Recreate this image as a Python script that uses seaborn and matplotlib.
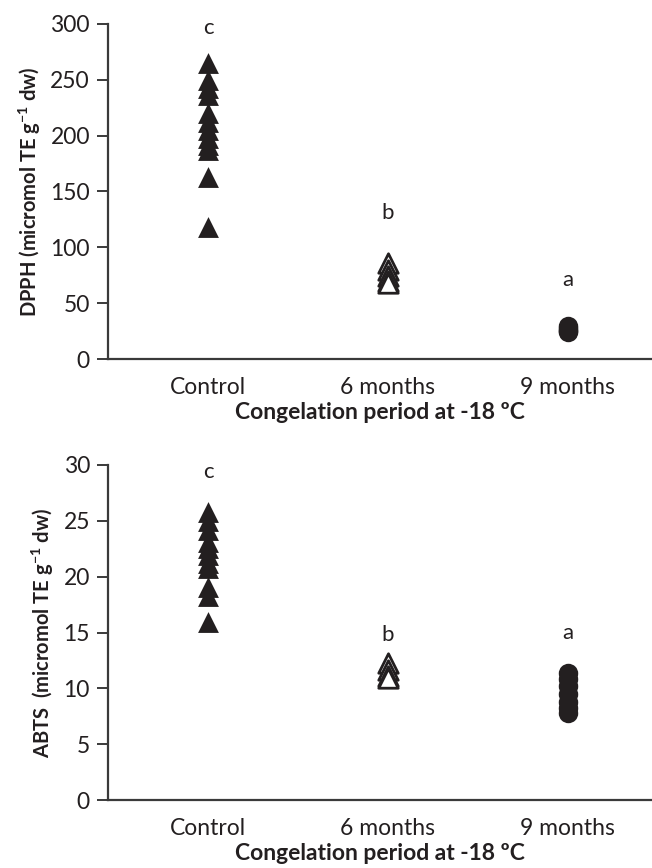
import pandas as pd
import matplotlib.pyplot as plt
import seaborn as sns

sns.set_style("white")
plt.rcParams['font.family'] = ['Lato', 'DejaVu Sans']
plt.rcParams['mathtext.fontset'] = 'custom'
plt.rcParams['mathtext.rm'] = 'Lato'
plt.rcParams['mathtext.bf'] = 'Lato:bold'
plt.rcParams['mathtext.default'] = 'bf'

# grupos y datos
groups = ['Control', '6 months', '9 months']
letters = ['c', 'b', 'a']

dpph_control = [265, 250, 243, 236, 220, 212, 205, 198, 192, 187, 163, 118]
dpph_6m = [86, 80, 74, 70, 68]
dpph_9m = [30, 28, 26, 25, 24]
dpph_letter_y = [296, 131, 71]

abts_control = [25.8, 25.0, 24.2, 23.1, 22.6, 21.9, 21.2, 20.8, 19.1, 18.3, 15.9]
abts_6m = [12.3, 11.6, 11.1, 10.9]
abts_9m = [11.4, 10.8, 10.2, 9.5, 8.8, 8.2, 7.8]
abts_letter_y = [29.4, 14.8, 15.0]

ink = '#231f20'


def make_df(ctrl, m6, m9):
    return pd.DataFrame({
        'group': ['Control'] * len(ctrl) + ['6 months'] * len(m6) + ['9 months'] * len(m9),
        'value': ctrl + m6 + m9,
    })


def panel(ax, df, ylabel, yticks, letter_y, xlabelpad):
    # control: triangulos negros
    sns.stripplot(data=df[df.group == 'Control'], x='group', y='value', order=groups,
                  jitter=False, marker='^', size=15, color=ink, linewidth=0, ax=ax)
    # 6 meses: triangulos abiertos
    sns.stripplot(data=df[df.group == '6 months'], x='group', y='value', order=groups,
                  jitter=False, marker='^', size=14, color='white', edgecolor=ink,
                  linewidth=2, ax=ax)
    # 9 meses: circulos negros
    sns.stripplot(data=df[df.group == '9 months'], x='group', y='value', order=groups,
                  jitter=False, marker='o', size=14, color=ink, linewidth=0, ax=ax)

    for i, (lt, ly) in enumerate(zip(letters, letter_y)):
        ax.text(i, ly, lt, ha='center', va='center', fontsize=16, color=ink)

    ax.set_xlim(-0.556, 2.467)
    ax.set_ylim(yticks[0], yticks[-1])
    ax.set_yticks(yticks)
    ax.set_xlabel('Congelation period at -18 ºC', fontsize=16.5, fontweight='bold',
                  color=ink, labelpad=xlabelpad)
    ax.set_ylabel(ylabel, fontsize=14.5, fontweight='bold', color=ink, labelpad=5)
    sns.despine(ax=ax)
    for s in ['left', 'bottom']:
        ax.spines[s].set_color('#3a3a3a')
        ax.spines[s].set_linewidth(1.6)
    ax.tick_params(axis='y', length=8, width=1.4, color='#3a3a3a', labelsize=16.5,
                   labelcolor=ink, pad=5, left=True)
    ax.tick_params(axis='x', length=0, labelsize=16.5, labelcolor=ink, pad=13)
    for c in ax.collections:
        c.set_clip_on(False)


fig = plt.figure(figsize=(6.52, 8.68), dpi=100)
ax1 = fig.add_axes([0.1656, 0.5864, 0.834, 0.386])
ax2 = fig.add_axes([0.1656, 0.0783, 0.834, 0.386])

panel(ax1, make_df(dpph_control, dpph_6m, dpph_9m),
      'DPPH (micromol TE g$^{-1}$ dw)', [0, 50, 100, 150, 200, 250, 300], dpph_letter_y, 3)
panel(ax2, make_df(abts_control, abts_6m, abts_9m),
      'ABTS  (micromol TE g$^{-1}$ dw)', [0, 5, 10, 15, 20, 25, 30], abts_letter_y, 3)

fig.savefig('out.png', dpi=100)
